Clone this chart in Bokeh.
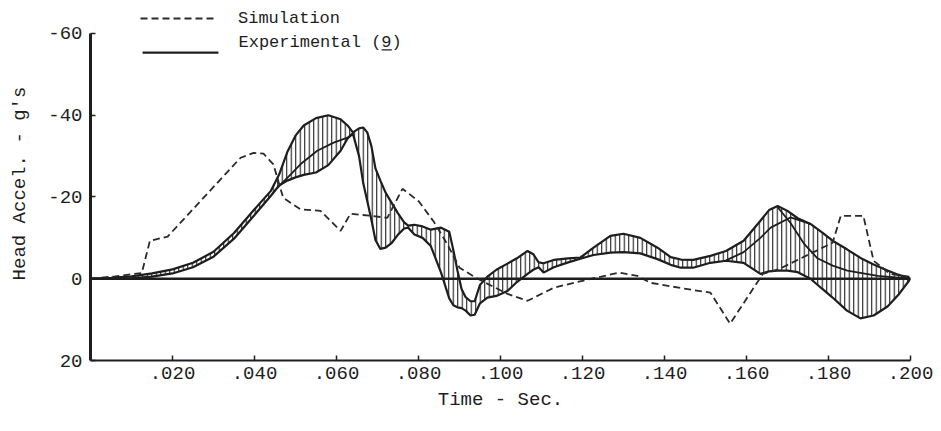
from bokeh.plotting import figure
from bokeh.models import (Range1d, FixedTicker, Span, Legend, LegendItem, Arrow, Label)
from bokeh.embed import file_html
from bokeh.resources import INLINE

# ---------------- data ----------------
# Simulation (dashed)
t_sim = [0.000, 0.006, 0.0125, 0.0145, 0.0188, 0.0366, 0.0398, 0.0422, 0.0446, 0.047,
         0.0512, 0.0561, 0.061, 0.0634, 0.0683, 0.0724, 0.0761, 0.080, 0.0837, 0.087,
         0.090, 0.0944, 0.1017, 0.1066, 0.113, 0.120, 0.129, 0.1334, 0.1366, 0.1447,
         0.1512, 0.156, 0.164, 0.168, 0.181, 0.183, 0.1885, 0.191, 0.195, 0.200]
sim = [0.0, -0.6, -1.4, -9.3, -10.3, -29.6, -30.8, -30.6, -28.0, -19.8,
       -17.0, -16.6, -11.7, -15.9, -15.4, -14.9, -22.0, -19.0, -14.0, -8.5,
       -2.7, 0.0, 3.7, 5.4, 2.2, 0.5, -1.5, -0.7, 1.0, 2.4,
       3.4, 11.0, -1.2, -2.4, -8.8, -15.4, -15.4, -4.4, -1.2, -0.5]

# Experimental band (envelope of the test curves)
t_exp = [0.000, 0.005, 0.010, 0.015, 0.020, 0.025, 0.030, 0.035, 0.040, 0.044,
         0.046, 0.048, 0.050, 0.052, 0.055, 0.058, 0.061, 0.0627, 0.064, 0.0655,
         0.0665, 0.0675, 0.0685, 0.0695, 0.0707, 0.072, 0.0735, 0.075, 0.0765, 0.0775,
         0.079, 0.081, 0.083, 0.0855, 0.0875, 0.0885, 0.0895, 0.0905, 0.0915, 0.0927,
         0.0937, 0.095, 0.0968, 0.099, 0.1017, 0.104, 0.1066, 0.108, 0.1093, 0.1105,
         0.113, 0.1165, 0.1195, 0.1227, 0.1268, 0.130, 0.1341, 0.1383, 0.1415, 0.144,
         0.147, 0.1512, 0.155, 0.1593, 0.1634, 0.1655, 0.1676, 0.170, 0.1725, 0.1756,
         0.1785, 0.181, 0.1845, 0.1878, 0.191, 0.1944, 0.197, 0.200]
exp_upper = [0.0, -0.2, -0.6, -1.3, -2.3, -3.9, -6.6, -11.2, -17.0, -21.5,
             -25.5, -31.0, -35.0, -37.5, -39.3, -40.0, -39.0, -37.5, -35.8, -36.8,
             -37.0, -35.8, -32.5, -27.0, -24.0, -21.0, -18.5, -16.0, -13.8, -13.0,
             -13.2, -12.8, -12.0, -12.5, -11.5, -7.0, -2.0, 2.5, 4.5, 5.5,
             5.5, 1.5, -0.5, -2.2, -3.7, -5.0, -6.8, -6.0, -4.0, -3.8,
             -4.6, -5.0, -5.2, -7.6, -10.5, -11.0, -10.0, -7.6, -5.3, -4.7,
             -4.6, -5.6, -6.8, -9.3, -14.2, -16.8, -17.8, -16.6, -14.8, -13.4,
             -11.3, -9.3, -7.2, -5.1, -3.5, -2.0, -1.0, 0.0]
exp_lower = [0.0, 0.0, -0.1, -0.5, -1.3, -2.8, -5.4, -9.8, -15.6, -20.3,
             -22.8, -24.0, -24.8, -25.4, -26.0, -27.8, -31.3, -34.3, -35.5, -30.0,
             -23.5, -19.0, -14.5, -9.5, -7.3, -7.6, -8.8, -10.8, -12.3, -12.5,
             -10.8, -10.0, -8.0, -1.5, 4.8, 6.5, 7.0, 7.2, 7.8, 9.0,
             8.8, 6.0, 4.6, 4.2, 3.0, 0.8, -1.2, -2.2, -2.8, -1.5,
             -2.8, -4.0, -4.9, -5.8, -6.4, -6.5, -6.2, -4.8, -3.4, -2.7,
             -2.7, -3.9, -4.4, -3.9, -1.2, -1.8, -2.0, -2.0, -1.6, 0.0,
             2.5, 4.6, 7.8, 9.7, 9.0, 6.8, 4.0, 0.0]

# inner experimental curves
t_mid1 = [0.0456, 0.048, 0.0512, 0.0553, 0.0593, 0.0627, 0.064]
mid1 = [-22.3, -24.7, -28.0, -31.3, -33.3, -34.5, -35.6]
t_mid2 = [0.1676, 0.1707, 0.174, 0.1773, 0.181, 0.1846, 0.192, 0.200]
mid2 = [-17.5, -13.7, -8.6, -5.0, -3.2, -2.0, -0.7, 0.0]
t_mid3 = [0.155, 0.1593, 0.1634, 0.1659, 0.1707, 0.1756]
mid3 = [-4.5, -6.5, -10.0, -12.5, -15.0, -13.4]

x_ticks = [0.02, 0.04, 0.06, 0.08, 0.10, 0.12, 0.14, 0.16, 0.18, 0.20]
x_tick_labels = [".020", ".040", ".060", ".080", ".100", ".120", ".140", ".160", ".180", ".200"]
y_ticks = [-60, -40, -20, 0, 20]
y_tick_labels = ["-60", "-40", "-20", "0", "20"]

# ---------------- figure ----------------
FONT = "Liberation Mono"
INK = "#1e1e1e"

# frame reaches a little above -60 so the legend (drawn above the axis end) stays visible
p = figure(width=941, height=431, output_backend="svg", toolbar_location=None,
           x_range=Range1d(0, 0.2), y_range=Range1d(20, -66.6),
           min_border_left=90, min_border_right=31, min_border_top=6, min_border_bottom=71,
           background_fill_color="white", border_fill_color="white")
p.outline_line_color = None
p.grid.visible = False

# axes
p.xaxis.ticker = FixedTicker(ticks=x_ticks)
p.xaxis.major_label_overrides = dict(zip(x_ticks, x_tick_labels))
p.yaxis.ticker = FixedTicker(ticks=y_ticks)
p.yaxis.major_label_overrides = dict(zip(y_ticks, y_tick_labels))
p.yaxis.bounds = (-60, 20)
for ax in (p.xaxis[0], p.yaxis[0]):
    ax.major_tick_in = 5
    ax.major_tick_out = 0
    ax.minor_tick_line_color = None
    ax.major_tick_line_color = INK
    ax.major_tick_line_width = 1.5
    ax.axis_line_color = INK
    ax.major_label_text_font = FONT
    ax.major_label_text_font_size = "19px"
    ax.major_label_text_color = INK
    ax.axis_label_text_font = FONT
    ax.axis_label_text_font_size = "19px"
    ax.axis_label_text_font_style = "normal"
    ax.axis_label_text_color = INK
p.xaxis.axis_line_width = 2
p.yaxis.axis_line_width = 3
p.xaxis.axis_label = "Time - Sec."
p.yaxis.axis_label = "Head Accel. - g's"
p.xaxis.major_label_standoff = 6
p.xaxis.axis_label_standoff = 7
p.yaxis.major_label_standoff = 8
p.yaxis.axis_label_standoff = 14

# zero line
p.add_layout(Span(location=0, dimension="width", line_color=INK, line_width=2.5))

# experimental band (hatched)
p.varea(x=t_exp, y1=exp_upper, y2=exp_lower, fill_alpha=0,
        hatch_pattern="|", hatch_color=INK, hatch_scale=4.5, hatch_weight=1.1)
up_r = p.line(t_exp, exp_upper, line_color=INK, line_width=2.2)
p.line(t_exp, exp_lower, line_color=INK, line_width=2.2)
p.line(t_mid1, mid1, line_color=INK, line_width=1.8)
p.line(t_mid2, mid2, line_color=INK, line_width=1.8)
p.line(t_mid3, mid3, line_color=INK, line_width=1.8)

# simulation (dashed)
sim_r = p.line(t_sim, sim, line_color="#2a2a2a", line_width=1.8, line_dash="7 4")

# legend: simulation entry
leg_sim = Legend(items=[LegendItem(label="Simulation", renderers=[sim_r])],
                 location=(50, 332), orientation="vertical",
                 glyph_width=75, glyph_height=20, label_height=20,
                 label_standoff=23, spacing=0, padding=0, margin=0,
                 border_line_alpha=0, background_fill_alpha=0,
                 label_text_font=FONT, label_text_font_size="17px",
                 label_text_color=INK)
p.add_layout(leg_sim)

# legend: experimental entry (its key line sits below the text, as in the original)
p.add_layout(Arrow(x_start=0.0127, y_start=-55.3, x_end=0.0312, y_end=-55.3,
                   end=None, line_color=INK, line_width=2.2))
p.add_layout(Label(x=0.0361, y=-57.7, text="Experimental (9)", text_baseline="middle",
                   text_font=FONT, text_font_size="17px", text_color=INK))
# underline of the reference number
p.add_layout(Arrow(x_start=0.0710, y_start=-56.0, x_end=0.0735, y_end=-56.0,
                   end=None, line_color=INK, line_width=1.2))

open("out.html", "w").write(file_html(p, INLINE))
